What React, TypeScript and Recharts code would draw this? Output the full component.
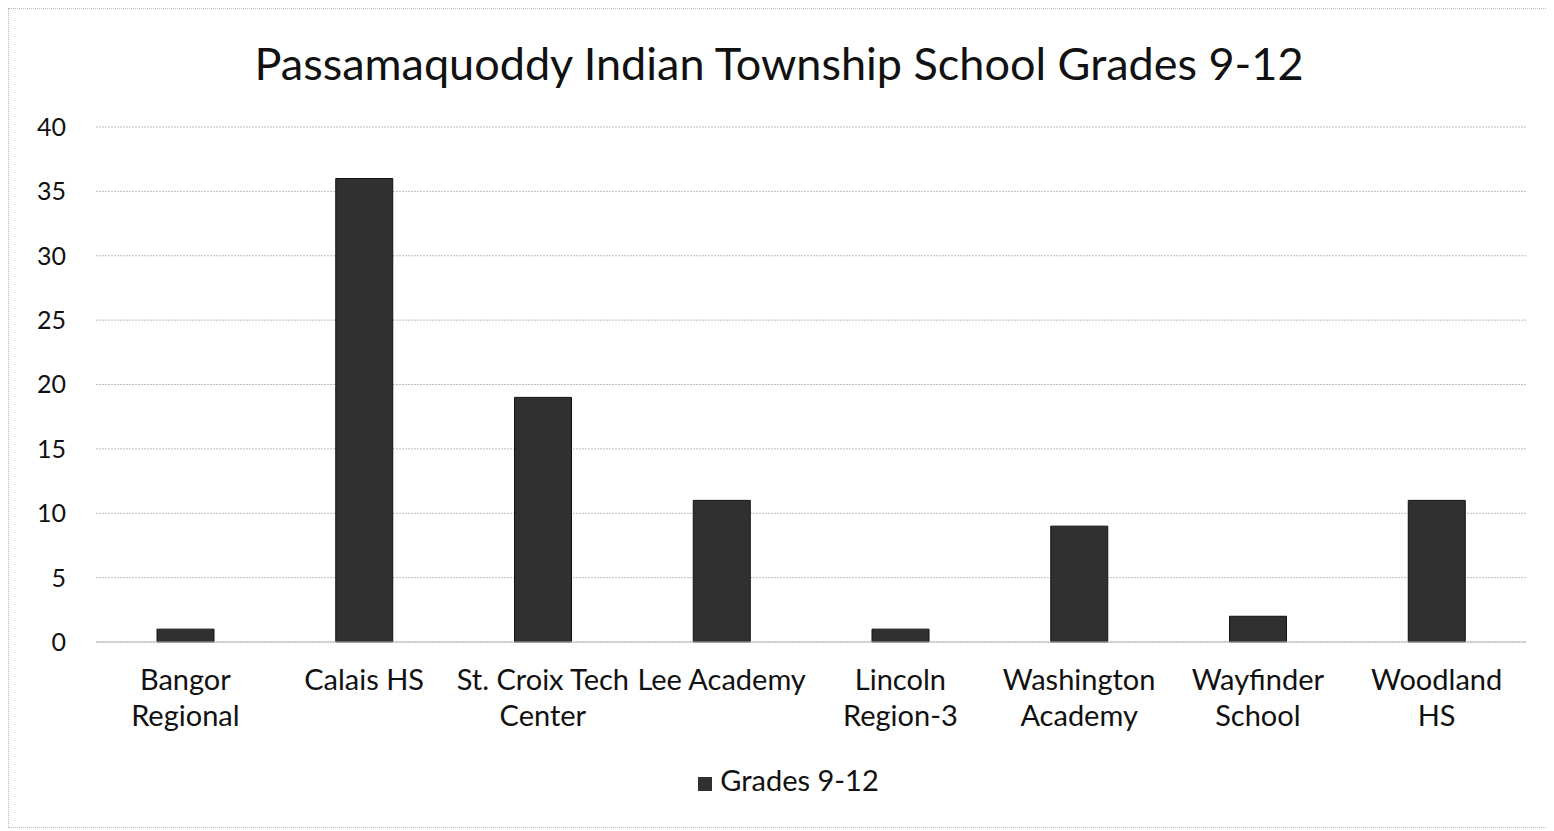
import React from 'react'
import { BarChart, Bar, XAxis, YAxis, CartesianGrid, Legend } from 'recharts'

const schools = [
  'Bangor\nRegional',
  'Calais HS',
  'St. Croix Tech\nCenter',
  'Lee Academy',
  'Lincoln\nRegion-3',
  'Washington\nAcademy',
  'Wayfinder\nSchool',
  'Woodland\nHS',
]
const grades912 = [1, 36, 19, 11, 1, 9, 2, 11]
const yTicks = [0, 5, 10, 15, 20, 25, 30, 35, 40]

const data = schools.map((name, i) => ({ name, value: grades912[i] }))

const FONT = 'Lato, "Open Sans", sans-serif'

function SchoolTick(props: any) {
  const { x, y, payload } = props
  const lines = String(payload.value).split('\n')
  return (
    <g transform={`translate(${x},${y})`}>
      {lines.map((line, i) => (
        <text
          key={i}
          x={0}
          y={i * 36}
          dy={40}
          textAnchor="middle"
          fill="#111"
          fontSize={29}
          fontFamily={FONT}
        >
          {line}
        </text>
      ))}
    </g>
  )
}

export default function App() {
  return (
    <div
      style={{
        position: 'relative',
        width: 1540,
        height: 818,
        border: '1px dotted #bbb',
        background: '#fff',
        fontFamily: FONT,
      }}
    >
      <div
        style={{
          position: 'absolute',
          top: 30,
          left: 0,
          width: '100%',
          textAlign: 'center',
          fontSize: 45,
          lineHeight: '48px',
          color: '#111',
        }}
      >
        Passamaquoddy Indian Township School Grades 9-12
      </div>
      <BarChart
        width={1540}
        height={818}
        data={data}
        margin={{ top: 118, right: 23, bottom: 50, left: 0 }}
        barSize={57}
      >
        <CartesianGrid vertical={false} stroke="#bdbdbd" strokeDasharray="2 1" />
        <XAxis
          dataKey="name"
          tick={<SchoolTick />}
          tickLine={false}
          axisLine={{ stroke: '#bdbdbd' }}
          height={100}
          interval={0}
        />
        <YAxis
          ticks={yTicks}
          domain={[0, 40]}
          tick={{ fontSize: 25, fill: '#111', fontFamily: FONT }}
          tickLine={false}
          axisLine={false}
          tickMargin={24}
          width={87}
        />
        <Legend
          iconType="square"
          iconSize={14}
          wrapperStyle={{ fontSize: 29, fontFamily: FONT, color: '#111', bottom: 30, paddingLeft: 26 }}
          formatter={() => <span style={{ color: '#111', marginLeft: 4 }}>Grades 9-12</span>}
        />
        <Bar
          dataKey="value"
          name="Grades 9-12"
          fill="#303030"
          stroke="#111"
          isAnimationActive={false}
        />
      </BarChart>
    </div>
  )
}
